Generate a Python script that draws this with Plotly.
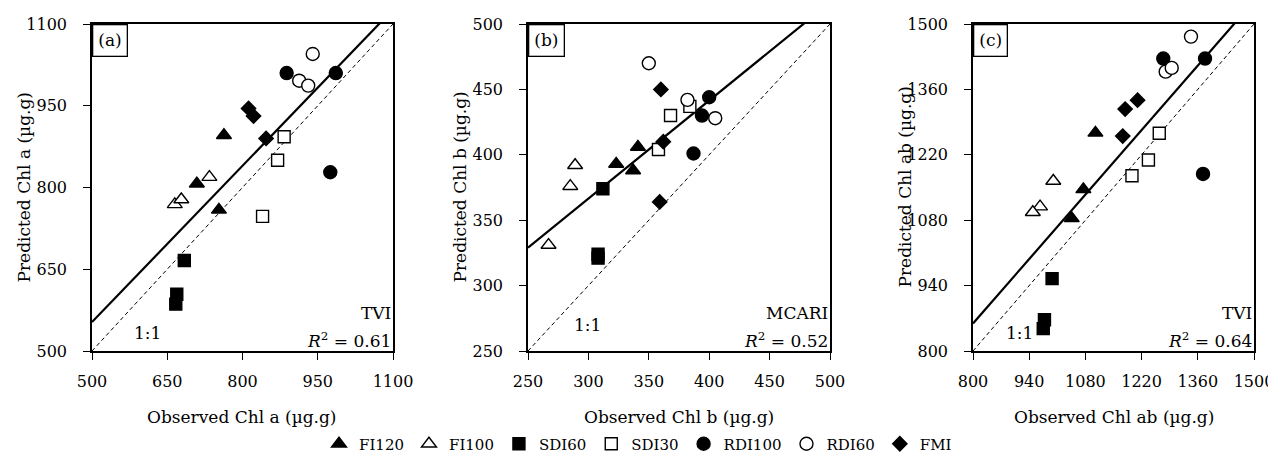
import plotly.graph_objects as go

# ---------------- data ----------------
treatments = ["FI120", "FI100", "SDI60", "SDI30", "RDI100", "RDI60", "FMI"]

# Panel (a) Chl a
chla_obs = {
    "FI120": [763, 709, 753], "FI100": [665, 678, 734], "SDI60": [684, 669, 667],
    "SDI30": [883, 870, 840], "RDI100": [888, 986, 975], "RDI60": [940, 913, 931],
    "FMI": [812, 822, 847],
}
chla_pred = {
    "FI120": [896, 807, 759], "FI100": [769, 778, 819], "SDI60": [666, 604, 586],
    "SDI30": [893, 850, 747], "RDI100": [1010, 1010, 828], "RDI60": [1045, 996, 987],
    "FMI": [945, 931, 890],
}
# Panel (b) Chl b
chlb_obs = {
    "FI120": [341, 323, 337], "FI100": [289, 285, 267], "SDI60": [312, 308, 308],
    "SDI30": [358, 368, 384], "RDI100": [400, 394, 387], "RDI60": [350, 382, 405],
    "FMI": [360, 362, 359],
}
chlb_pred = {
    "FI120": [406, 393, 388], "FI100": [392, 376, 331], "SDI60": [374, 324, 321],
    "SDI30": [404, 430, 437], "RDI100": [444, 430, 401], "RDI60": [470, 442, 428],
    "FMI": [450, 410, 364],
}
# Panel (c) Chl ab
chlab_obs = {
    "FI120": [1105, 1075, 1046], "FI100": [1000, 967, 949], "SDI60": [997, 978, 975],
    "SDI30": [1264, 1237, 1196], "RDI100": [1274, 1378, 1373], "RDI60": [1343, 1280, 1295],
    "FMI": [1179, 1210, 1173],
}
chlab_pred = {
    "FI120": [1267, 1146, 1084], "FI100": [1164, 1109, 1097], "SDI60": [955, 867, 848],
    "SDI30": [1266, 1209, 1175], "RDI100": [1426, 1426, 1179], "RDI60": [1473, 1398, 1406],
    "FMI": [1318, 1337, 1260],
}

panel_labels = ["(a)", "(b)", "(c)"]
index_names = ["TVI", "MCARI", "TVI"]
r2_values = ["0.61", "0.52", "0.64"]
fit_slope = [0.956, 0.75, 0.986]
fit_intercept = [75, 141.5, 70]
axis_ranges = [[500, 1100], [250, 500], [800, 1500]]
tick_vals = [
    [500, 650, 800, 950, 1100],
    [250, 300, 350, 400, 450, 500],
    [800, 940, 1080, 1220, 1360, 1500],
]
x_titles = ["Observed Chl a (µg.g)", "Observed Chl b (µg.g)", "Observed Chl ab (µg.g)"]
y_titles = ["Predicted Chl a (µg.g)", "Predicted Chl b (µg.g)", "Predicted Chl ab (µg.g)"]
one_to_one_label_pos = [[610, 533], [299, 270], [917, 838]]

# ---------------- style ----------------
FONT = "DejaVu Serif"
FS = 17
PAGE_W, PAGE_H = 1276, 463
OFF = 8  # default page body margin
W, H = PAGE_W - OFF, PAGE_H - OFF


def fx_(px):
    return (px - OFF) / W


def fy_(py):
    return 1 - (py - OFF) / H


px_x = [(92, 393), (528, 830), (973, 1254)]
px_top, px_bot = 24, 351

symbols = {
    "FI120": ("triangle-up", "black", 13),
    "FI100": ("triangle-up", "white", 13),
    "SDI60": ("square", "black", 12),
    "SDI30": ("square", "white", 12),
    "RDI100": ("circle", "black", 13),
    "RDI60": ("circle", "white", 13),
    "FMI": ("diamond", "black", 11),
}

panels = [(chla_obs, chla_pred), (chlb_obs, chlb_pred), (chlab_obs, chlab_pred)]

fig = go.Figure()
annotations = []

for i, (obs, pred) in enumerate(panels):
    sfx = "" if i == 0 else str(i + 1)
    xa, ya = "x" + sfx, "y" + sfx
    lo, hi = axis_ranges[i]
    # 1:1 line
    fig.add_trace(go.Scatter(x=[lo, hi], y=[lo, hi], mode="lines", xaxis=xa, yaxis=ya,
                             line=dict(color="black", width=1, dash="4px,3px"),
                             showlegend=False, hoverinfo="skip"))
    # regression line
    lx = [lo, hi]
    ly = [fit_slope[i] * v + fit_intercept[i] for v in lx]
    fig.add_trace(go.Scatter(x=lx, y=ly, mode="lines", xaxis=xa, yaxis=ya,
                             line=dict(color="black", width=2.2),
                             showlegend=False, hoverinfo="skip"))
    for t in treatments:
        sym, fill, size = symbols[t]
        fig.add_trace(go.Scatter(
            x=obs[t], y=pred[t], mode="markers", name=t, xaxis=xa, yaxis=ya,
            legendgroup=t, showlegend=(i == 0),
            marker=dict(symbol=sym, color=fill, size=size,
                        line=dict(color="black", width=1.4)),
        ))

    x0, x1 = px_x[i]
    axis_common = dict(
        showline=True, linecolor="black", linewidth=1.5, mirror=True,
        ticks="outside", ticklen=7, tickwidth=1.3, tickcolor="black",
        showgrid=False, zeroline=False, automargin=False,
        tickfont=dict(family=FONT, size=16, color="black"),
        range=[lo, hi], tickvals=tick_vals[i],
    )
    fig.update_layout(**{
        ("xaxis" + sfx): dict(axis_common, domain=[fx_(x0), fx_(x1)], anchor=ya,
                              ticklabelstandoff=8),
        ("yaxis" + sfx): dict(axis_common, domain=[fy_(px_bot), fy_(px_top)],
                              anchor=xa, ticklabelstandoff=13),
    })

    tf = dict(family=FONT, size=FS, color="black")
    # panel label box
    annotations.append(dict(text=panel_labels[i], xref=xa + " domain", yref=ya + " domain",
                            x=0, y=1, xanchor="left", yanchor="top", showarrow=False,
                            font=tf, bordercolor="black", borderwidth=1.3, borderpad=5,
                            bgcolor="white"))
    # index name and R2
    annotations.append(dict(text=index_names[i], xref=xa + " domain", yref=ya + " domain",
                            x=1, y=(px_bot - 313) / (px_bot - px_top), xanchor="right",
                            yanchor="middle", showarrow=False, font=tf))
    annotations.append(dict(text="<i>R</i><sup>2</sup> = " + r2_values[i],
                            xref=xa + " domain", yref=ya + " domain",
                            x=1, y=(px_bot - 340) / (px_bot - px_top), xanchor="right",
                            yanchor="middle", showarrow=False, font=tf))
    # 1:1 label
    annotations.append(dict(text="1:1", xref=xa, yref=ya,
                            x=one_to_one_label_pos[i][0], y=one_to_one_label_pos[i][1],
                            showarrow=False, font=tf))
    # axis titles
    annotations.append(dict(text=x_titles[i], xref="paper", yref="paper",
                            x=fx_((x0 + x1) / 2), y=fy_(417), xanchor="center",
                            yanchor="middle", showarrow=False, font=tf))
    annotations.append(dict(text=y_titles[i], xref="paper", yref="paper",
                            x=fx_(x0 - 68), y=fy_((px_top + px_bot) / 2),
                            xanchor="center", yanchor="middle", textangle=-90,
                            showarrow=False, font=tf))

fig.update_layout(
    width=W, height=H,
    margin=dict(l=0, r=0, t=0, b=0, autoexpand=False),
    paper_bgcolor="white", plot_bgcolor="white",
    font=dict(family=FONT, size=FS, color="black"),
    showlegend=True,
    legend=dict(orientation="h", x=fx_(638), xanchor="center", y=fy_(444),
                yanchor="middle", font=dict(family=FONT, size=15, color="black"),
                itemwidth=30, bgcolor="rgba(0,0,0,0)"),
    annotations=annotations,
)

fig.write_html("out.html")
